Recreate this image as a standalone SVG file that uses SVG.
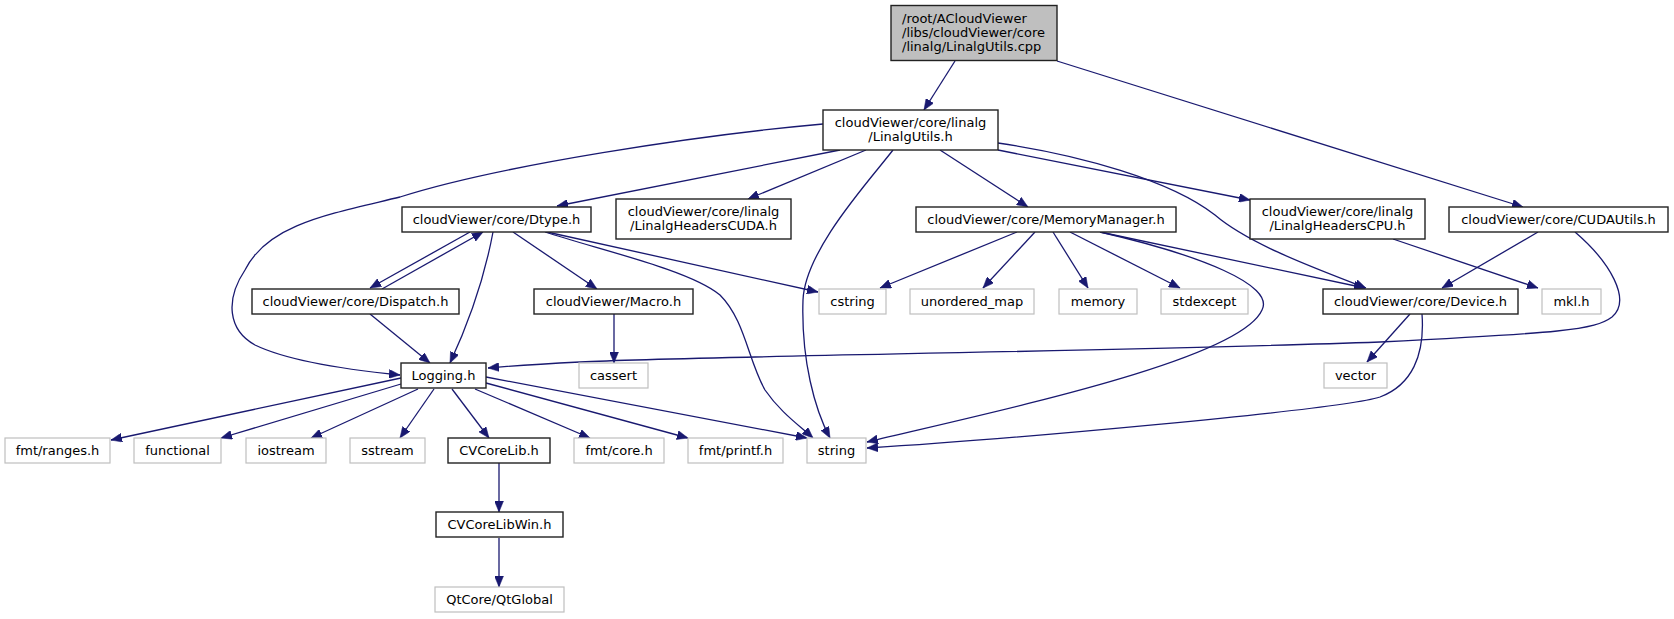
<svg xmlns="http://www.w3.org/2000/svg" width="1674" height="619" viewBox="0 0 1674 619">
<style>
.n rect{fill:#ffffff;stroke:#222222;stroke-width:1.4}
.g rect{fill:#ffffff;stroke:#bfbfbf;stroke-width:1.2}
.root rect{fill:#bfbfbf;stroke:#222222;stroke-width:1.4}
text{font-family:"DejaVu Sans","Liberation Sans",sans-serif;font-size:13px;fill:#000000;text-anchor:middle}
.root text{text-anchor:start}
#edges path{fill:none;stroke:#191970;stroke-width:1.3;marker-end:url(#arr)}
</style>
<defs>
<marker id="arr" viewBox="0 0 11 9" refX="11" refY="4.5" markerWidth="11" markerHeight="9" markerUnits="userSpaceOnUse" orient="auto">
<path d="M0,0 L11,4.5 L0,9 z" fill="#191970" stroke="#191970" stroke-width="0.5"/>
</marker>
</defs>
<rect width="1674" height="619" fill="#ffffff"/>
<g id="edges">
<path d="M955,61 L924,110"/>
<path d="M1057,61 L1523,207"/>
<path d="M823,124 C700,135 500,165 400,197 C330,214 268,224 245,270 C225,300 228,330 255,345 C290,362 350,370 400,375"/>
<path d="M840,150 L557,206"/>
<path d="M866,150 L748,199"/>
<path d="M893,150 C870,180 805,250 803,300 C801,360 815,410 830,438"/>
<path d="M940,150 L1028,207"/>
<path d="M998,150 L1250,200"/>
<path d="M998,143 C1080,155 1170,180 1215,215 C1250,245 1320,270 1366,288"/>
<path d="M470,232 L370,288"/>
<path d="M382,289 L483,232"/>
<path d="M493,232 C485,275 470,320 450,363"/>
<path d="M513,232 L597,289"/>
<path d="M547,232 L818,292"/>
<path d="M545,232 C600,250 690,270 720,295 C745,320 748,360 765,390 C780,412 800,426 813,438"/>
<path d="M370,314 L430,363"/>
<path d="M614,314 L614,363"/>
<path d="M1017,232 L880,288"/>
<path d="M1035,232 L983,288"/>
<path d="M1053,232 L1088,288"/>
<path d="M1070,232 L1180,288"/>
<path d="M1100,232 L1365,288"/>
<path d="M1100,232 C1200,255 1275,285 1262,310 C1240,360 1000,410 867,442"/>
<path d="M1393,239 L1538,288"/>
<path d="M1538,232 L1442,288"/>
<path d="M1575,232 C1610,262 1632,300 1612,317 C1595,330 1560,333 1380,342 C1100,352 700,356 580,362 C540,364 510,366 488,368"/>
<path d="M1410,314 L1367,362"/>
<path d="M1422,314 C1425,355 1412,385 1380,397 C1340,410 1000,440 867,448"/>
<path d="M401,378 L111,440"/>
<path d="M401,384 L221,438"/>
<path d="M418,389 L311,438"/>
<path d="M434,389 L400,438"/>
<path d="M452,389 L489,438"/>
<path d="M475,389 L590,438"/>
<path d="M486,383 L688,438"/>
<path d="M486,377 L807,438"/>
<path d="M499,463 L499,512"/>
<path d="M499,538 L499,587"/>
</g>
<g id="n_root" class="root"><rect x="891" y="5.5" width="166" height="55"/><text x="902" y="22.5">/root/ACloudViewer</text><text x="902" y="36.5">/libs/cloudViewer/core</text><text x="902" y="50.5">/linalg/LinalgUtils.cpp</text></g>
<g id="n_linalgutils" class="n"><rect x="823" y="110" width="175" height="40"/><text x="910.5" y="126.5">cloudViewer/core/linalg</text><text x="910.5" y="140.5">/LinalgUtils.h</text></g>
<g id="n_dtype" class="n"><rect x="402" y="207" width="189" height="25"/><text x="496.5" y="224">cloudViewer/core/Dtype.h</text></g>
<g id="n_cuda_h" class="n"><rect x="616" y="199" width="175" height="40"/><text x="703.5" y="215.5">cloudViewer/core/linalg</text><text x="703.5" y="229.5">/LinalgHeadersCUDA.h</text></g>
<g id="n_memmgr" class="n"><rect x="916" y="207" width="260" height="25"/><text x="1046" y="224">cloudViewer/core/MemoryManager.h</text></g>
<g id="n_cpu_h" class="n"><rect x="1250" y="199" width="175" height="40"/><text x="1337.5" y="215.5">cloudViewer/core/linalg</text><text x="1337.5" y="229.5">/LinalgHeadersCPU.h</text></g>
<g id="n_cudautils" class="n"><rect x="1449" y="207" width="219" height="25"/><text x="1558.5" y="224">cloudViewer/core/CUDAUtils.h</text></g>
<g id="n_dispatch" class="n"><rect x="252" y="289" width="207" height="25"/><text x="355.5" y="306">cloudViewer/core/Dispatch.h</text></g>
<g id="n_macro" class="n"><rect x="534" y="289" width="159" height="25"/><text x="613.5" y="306">cloudViewer/Macro.h</text></g>
<g id="n_cstring" class="g"><rect x="819" y="289" width="67" height="25"/><text x="852.5" y="306">cstring</text></g>
<g id="n_unordered_map" class="g"><rect x="910" y="289" width="124" height="25"/><text x="972" y="306">unordered_map</text></g>
<g id="n_memory" class="g"><rect x="1059" y="289" width="78" height="25"/><text x="1098" y="306">memory</text></g>
<g id="n_stdexcept" class="g"><rect x="1161" y="289" width="87" height="25"/><text x="1204.5" y="306">stdexcept</text></g>
<g id="n_device" class="n"><rect x="1323" y="289" width="195" height="25"/><text x="1420.5" y="306">cloudViewer/core/Device.h</text></g>
<g id="n_mkl" class="g"><rect x="1542" y="289" width="59" height="25"/><text x="1571.5" y="306">mkl.h</text></g>
<g id="n_logging" class="n"><rect x="401" y="363" width="85" height="25"/><text x="443.5" y="380">Logging.h</text></g>
<g id="n_cassert" class="g"><rect x="579" y="363" width="69" height="25"/><text x="613.5" y="380">cassert</text></g>
<g id="n_vector" class="g"><rect x="1324" y="363" width="63" height="25"/><text x="1355.5" y="380">vector</text></g>
<g id="n_fmt_ranges" class="g"><rect x="5" y="438" width="105" height="25"/><text x="57.5" y="455">fmt/ranges.h</text></g>
<g id="n_functional" class="g"><rect x="134" y="438" width="87" height="25"/><text x="177.5" y="455">functional</text></g>
<g id="n_iostream" class="g"><rect x="246" y="438" width="80" height="25"/><text x="286" y="455">iostream</text></g>
<g id="n_sstream" class="g"><rect x="350" y="438" width="75" height="25"/><text x="387.5" y="455">sstream</text></g>
<g id="n_cvcorelib" class="n"><rect x="448" y="438" width="102" height="25"/><text x="499" y="455">CVCoreLib.h</text></g>
<g id="n_fmt_core" class="g"><rect x="574" y="438" width="90" height="25"/><text x="619" y="455">fmt/core.h</text></g>
<g id="n_fmt_printf" class="g"><rect x="688" y="438" width="95" height="25"/><text x="735.5" y="455">fmt/printf.h</text></g>
<g id="n_string" class="g"><rect x="807" y="438" width="59" height="25"/><text x="836.5" y="455">string</text></g>
<g id="n_cvcorelibwin" class="n"><rect x="436" y="512" width="127" height="25"/><text x="499.5" y="529">CVCoreLibWin.h</text></g>
<g id="n_qtglobal" class="g"><rect x="435" y="587" width="129" height="25"/><text x="499.5" y="604">QtCore/QtGlobal</text></g>
</svg>
